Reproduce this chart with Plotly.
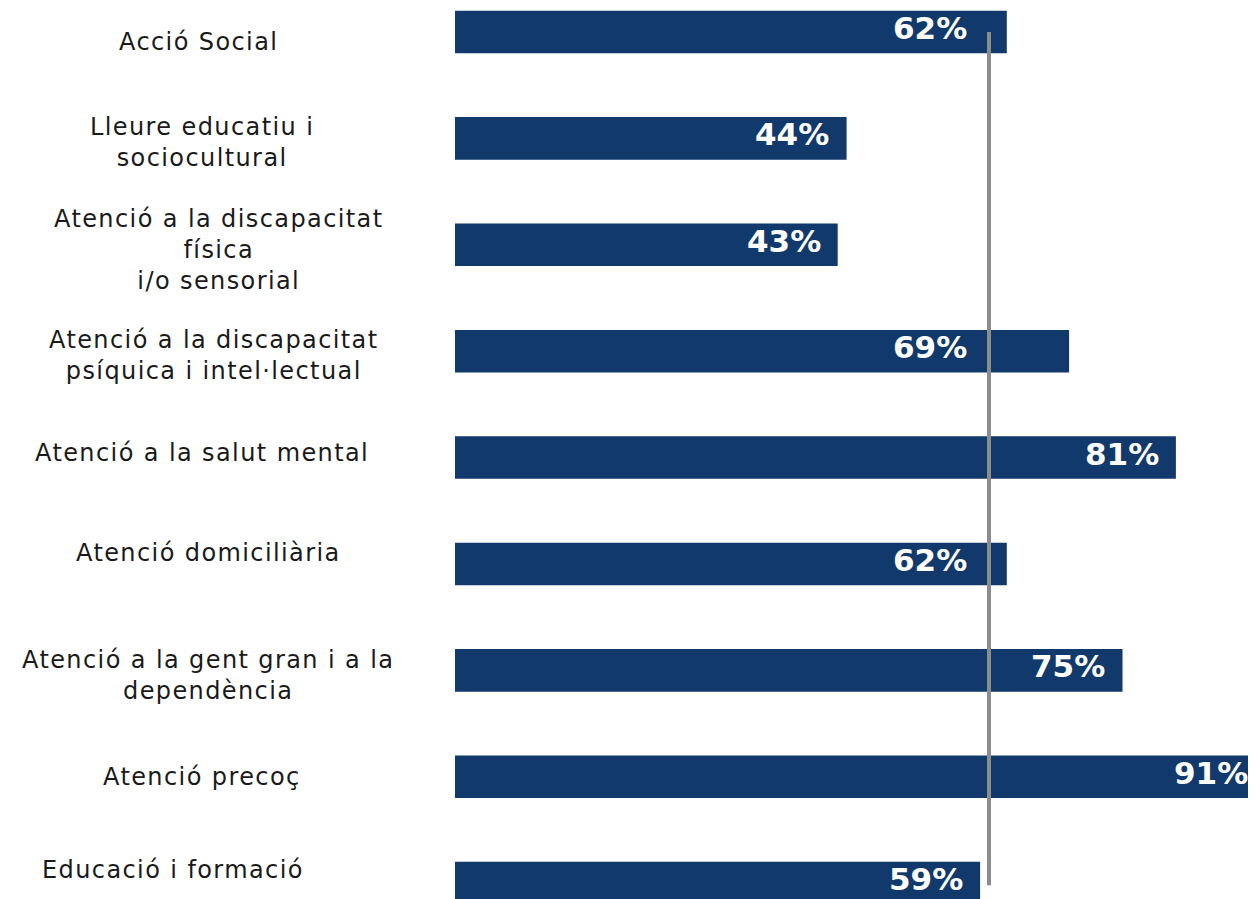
import plotly.graph_objects as go

# Data
categories = [
    "Acció Social",
    "Lleure educatiu i<br>sociocultural",
    "Atenció a la discapacitat<br>física<br>i/o sensorial",
    "Atenció a la discapacitat<br>psíquica i intel·lectual",
    "Atenció a la salut mental",
    "Atenció domiciliària",
    "Atenció a la gent gran i a la<br>dependència",
    "Atenció precoç",
    "Educació i formació",
]
values = [62, 44, 43, 69, 81, 62, 75, 91, 59]
reference = 60

# small per-label nudges (pixels) so the labels sit like in the original
label_dx = [-7, -3, 14, 9, -3, 3, 3, -3, -32]
label_dy = [-10, -4, -5, -4, 5, 11, -5, 0, 13]

bar_color = "#12396b"
line_color = "#8c8c8c"

idx = list(range(len(categories)))

fig = go.Figure()
fig.add_trace(go.Bar(
    x=values, y=idx, orientation="h",
    marker=dict(color=bar_color, line_width=0),
    width=0.4, hoverinfo="x",
))

# reference line on top of the bars
fig.add_shape(type="line", x0=reference, x1=reference, y0=0, y1=8.02,
              xref="x", yref="y", line=dict(color=line_color, width=4), layer="above")

annotations = []
for i, (cat, v) in enumerate(zip(categories, values)):
    annotations.append(dict(
        x=-0.312, xref="paper", y=i, yref="y",
        text=f'<span style="letter-spacing:1.4px">{cat}</span>', showarrow=False,
        xanchor="center", yanchor="middle", align="center",
        xshift=label_dx[i], yshift=label_dy[i],
        font=dict(family="DejaVu Sans", size=24, color="#1a1a1a"),
    ))
    # keep the value label clear of the reference line
    end = v - 1.7
    if v > reference and end - 8.7 < reference + 0.5:
        end = reference - 2.25
    annotations.append(dict(
        x=end, xref="x", y=i, yref="y", text=f"{v}%", showarrow=False,
        xanchor="right", yanchor="middle", yshift=4,
        font=dict(family="DejaVu Sans", size=31, color="white", weight="bold"),
    ))

# the page adds an 8px body margin, so the figure is a bit smaller than the window
fig.update_layout(
    width=1248, height=891,
    margin=dict(l=447, r=0, t=0, b=0),
    paper_bgcolor="white", plot_bgcolor="white",
    showlegend=False,
    xaxis=dict(range=[0, 90], visible=False, fixedrange=True),
    yaxis=dict(range=[8.149, -0.2256], visible=False, fixedrange=True),
    annotations=annotations,
)

fig.write_html("out.html")
